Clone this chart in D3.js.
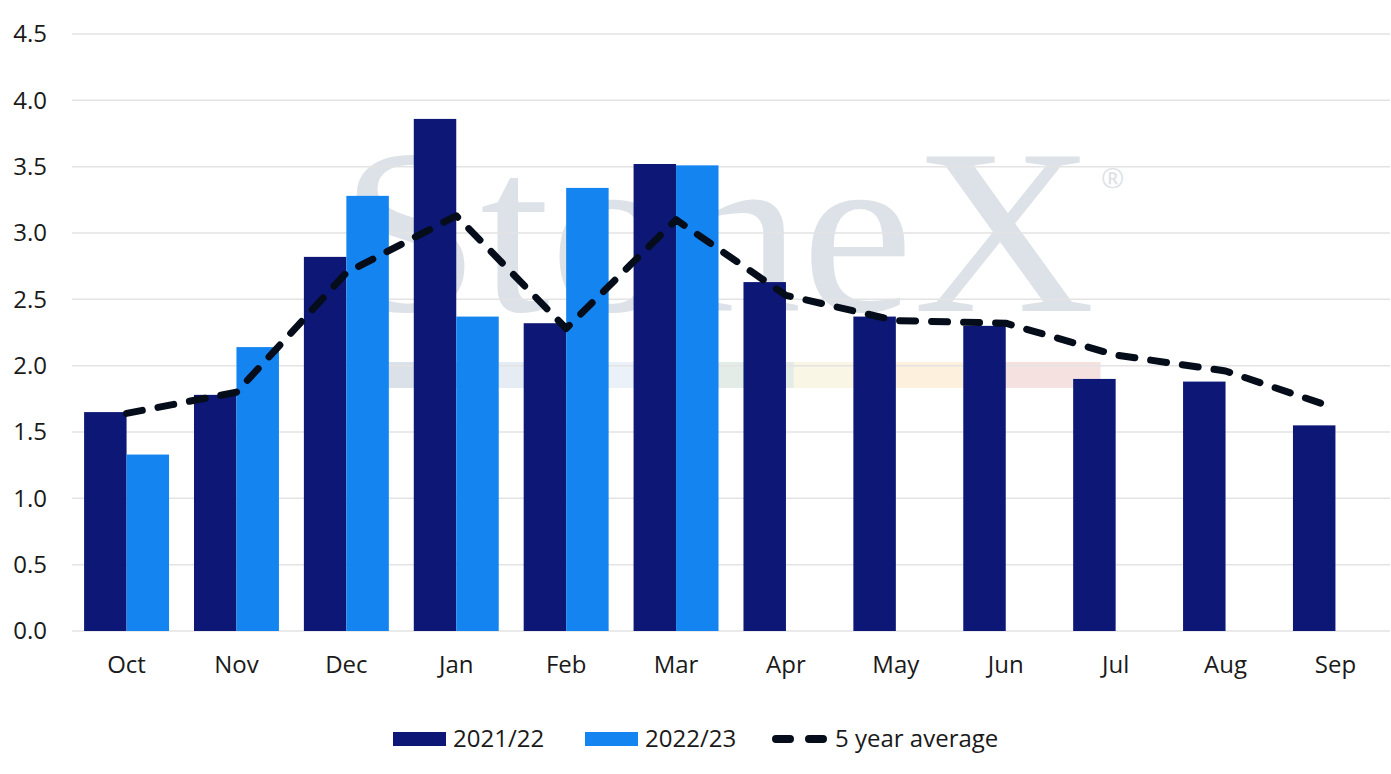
<!DOCTYPE html>
<html>
<head>
<meta charset="utf-8">
<script src="https://cdn.jsdelivr.net/npm/d3@7"></script>
<style>
  body { margin: 0; background: #fff; }
  svg text { font-family: "Open Sans", "Noto Sans", sans-serif; fill: #1a1a1a; }
</style>
</head>
<body>
<svg id="chart" width="1391" height="774"></svg>
<script>
"use strict"

// Data
const months = ["Oct", "Nov", "Dec", "Jan", "Feb", "Mar", "Apr", "May", "Jun", "Jul", "Aug", "Sep"]
const season2122 = [1.65, 1.78, 2.82, 3.86, 2.32, 3.52, 2.63, 2.37, 2.30, 1.90, 1.88, 1.55]
const season2223 = [1.33, 2.14, 3.28, 2.37, 3.34, 3.51, null, null, null, null, null, null]
const fiveYearAvg = [1.64, 1.80, 2.70, 3.13, 2.28, 3.10, 2.53, 2.34, 2.32, 2.08, 1.96, 1.68]
const yTicks = [0, 0.5, 1, 1.5, 2, 2.5, 3, 3.5, 4, 4.5]

const colors = { dark: "#0d1775", light: "#1485f0", line: "#050c1a", grid: "#e3e3e3" }

const svg = d3.select("#chart")
const margins = { top: 34, right: 1, bottom: 143, left: 72 }
const width = 1391 - margins.left - margins.right
const height = 774 - margins.top - margins.bottom

const g = svg.append("g").attr("transform", `translate(${margins.left},${margins.top})`)

const x = d3.scaleBand().domain(months).range([0, width]).paddingInner(0.227).paddingOuter(0.11)
const xSub = d3.scaleBand().domain(["a", "b"]).range([0, x.bandwidth()])
const y = d3.scaleLinear().domain([0, 4.5]).range([height, 0])

// Watermark (faint logo behind the chart)
const wm = g.append("g")
const stripColors = ["#dbe1e8", "#e6ecf3", "#eaf1f8", "#e3ece6", "#f9f6e6", "#fdf0dc", "#f5e1e0"]
const stripX = d3.scaleLinear().domain([0, stripColors.length]).range([313, 1028])
wm.selectAll("rect").data(stripColors).join("rect")
    .attr("x", (d, i) => stripX(i))
    .attr("width", stripX(1) - stripX(0) + 0.5)
    .attr("y", 328).attr("height", 26)
    .attr("fill", d => d)
wm.append("text")
    .attr("x", 268).attr("y", 277)
    .attr("textLength", 755)
    .attr("lengthAdjust", "spacingAndGlyphs")
    .style("font-family", "'Liberation Serif', 'DejaVu Serif', serif")
    .style("font-size", "236px")
    .style("fill", "#dde2e8")
    .text("StoneX")
wm.append("text")
    .attr("x", 1029).attr("y", 154)
    .style("font-size", "28px")
    .style("fill", "#dde2e8")
    .text("®")

// Grid lines
g.append("g").selectAll("line").data(yTicks).join("line")
    .attr("x1", 0).attr("x2", width)
    .attr("y1", d => y(d)).attr("y2", d => y(d))
    .attr("stroke", colors.grid).attr("stroke-width", 1.5)

// Y axis labels
g.append("g").selectAll("text").data(yTicks).join("text")
    .attr("x", -25).attr("y", d => y(d))
    .attr("dy", "0.35em")
    .attr("text-anchor", "end")
    .style("font-size", "24px")
    .text(d => d.toFixed(1))

// Bars
const groups = g.append("g").selectAll("g").data(months).join("g")
    .attr("transform", d => `translate(${x(d)},0)`)

groups.append("rect")
    .attr("x", xSub("a")).attr("width", xSub.bandwidth())
    .attr("y", (d, i) => y(season2122[i]))
    .attr("height", (d, i) => height - y(season2122[i]))
    .attr("fill", colors.dark)

groups.filter((d, i) => season2223[i] !== null).append("rect")
    .attr("x", xSub("b")).attr("width", xSub.bandwidth())
    .attr("y", d => y(season2223[months.indexOf(d)]))
    .attr("height", d => height - y(season2223[months.indexOf(d)]))
    .attr("fill", colors.light)

// 5 year average line
const line = d3.line()
    .x((d, i) => x(months[i]) + x.bandwidth() / 2)
    .y(d => y(d))

g.append("path")
    .datum(fiveYearAvg)
    .attr("d", line)
    .attr("fill", "none")
    .attr("stroke", colors.line)
    .attr("stroke-width", 7)
    .attr("stroke-dasharray", "16 16")
    .attr("stroke-linecap", "round")
    .attr("stroke-linejoin", "round")

// X axis labels
g.append("g").selectAll("text").data(months).join("text")
    .attr("x", d => x(d) + x.bandwidth() / 2)
    .attr("y", height + 42)
    .attr("text-anchor", "middle")
    .style("font-size", "24px")
    .text(d => d)

// Legend
const legend = svg.append("g").attr("transform", "translate(0,739)")
const legendItems = [
    { label: "2021/22", type: "bar", color: colors.dark, x: 393 },
    { label: "2022/23", type: "bar", color: colors.light, x: 585 },
    { label: "5 year average", type: "line", color: colors.line, x: 772 }
]
const items = legend.selectAll("g").data(legendItems).join("g")
    .attr("transform", d => `translate(${d.x},0)`)
items.filter(d => d.type === "bar").append("rect")
    .attr("x", 0).attr("y", -7).attr("width", 53).attr("height", 14)
    .attr("fill", d => d.color)
items.filter(d => d.type === "line").append("line")
    .attr("x1", 4).attr("x2", 52).attr("y1", 0).attr("y2", 0)
    .attr("stroke", d => d.color).attr("stroke-width", 8)
    .attr("stroke-linecap", "round")
    .attr("stroke-dasharray", "14 19")
items.append("text")
    .attr("x", d => d.type === "bar" ? 60 : 63)
    .attr("y", 0).attr("dy", "0.35em")
    .style("font-size", "24px")
    .text(d => d.label)
</script>
</body>
</html>
